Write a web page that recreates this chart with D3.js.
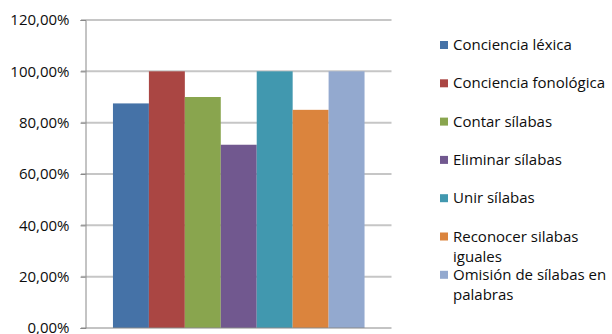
<!DOCTYPE html>
<html>
<head>
<meta charset="utf-8">
<script src="https://cdn.jsdelivr.net/npm/d3@7"></script>
<style>
  html, body { margin: 0; padding: 0; background: #ffffff; }
  svg { display: block; }
  text { font-family: "Open Sans", "Liberation Sans", sans-serif; fill: #0d0d0d; }
</style>
</head>
<body>
<svg id="chart" width="612" height="334"></svg>
<script>
// ---- data ----
const categories = [""];
const seriesNames = [
  "Conciencia léxica",
  "Conciencia fonológica",
  "Contar sílabas",
  "Eliminar sílabas",
  "Unir sílabas",
  "Reconocer silabas iguales",
  "Omisión de sílabas en palabras"
];
const seriesValues = [0.875, 1.0, 0.90, 0.714, 1.0, 0.85, 1.0];
const seriesColors = ["#4572A7", "#AA4643", "#89A54E", "#71588F", "#4198AF", "#DB843D", "#93A9CF"];
const yTicks = [0, 0.2, 0.4, 0.6, 0.8, 1.0, 1.2];

// ---- layout ----
const plot = { left: 86, right: 391.5, top: 20, bottom: 328 };
const gapWidth = 1.5; // Excel gap width 150%

const svg = d3.select("#chart");
const locale = d3.formatLocale({ decimal: ",", thousands: ".", grouping: [3], currency: ["", "€"] });
const fmt = locale.format(".2%");

const y = d3.scaleLinear().domain([0, 1.2]).range([plot.bottom, plot.top]);
const x0 = d3.scaleBand().domain(categories).range([plot.left, plot.right]).padding(0);
const bw = x0.bandwidth();
const barW = bw / (seriesNames.length + gapWidth);
const x1 = d3.scaleBand().domain(seriesNames)
  .range([barW * gapWidth / 2, bw - barW * gapWidth / 2]).padding(0);

// gridlines
svg.append("g").selectAll("line").data(yTicks.filter(d => d > 0)).join("line")
  .attr("x1", plot.left - 5).attr("x2", plot.right)
  .attr("y1", d => y(d)).attr("y2", d => y(d))
  .attr("stroke", "#c6c6c6").attr("stroke-width", 2);

// bars
const data = seriesNames.map((s, i) => ({ cat: categories[0], name: s, value: seriesValues[i], color: seriesColors[i] }));
svg.append("g").selectAll("rect").data(data).join("rect")
  .attr("x", d => x0(d.cat) + x1(d.name))
  .attr("width", x1.bandwidth())
  .attr("y", d => y(d.value))
  .attr("height", d => y(0) - y(d.value))
  .attr("fill", d => d.color);

// y axis
const yAxis = d3.axisLeft(y).tickValues(yTicks).tickFormat(fmt).tickSize(5).tickPadding(11);
const gy = svg.append("g").attr("transform", `translate(${plot.left - 0.5},0)`).call(yAxis);
gy.select(".domain").attr("stroke", "#888888");
gy.selectAll(".tick line").attr("stroke", "#888888");
gy.selectAll(".tick text").style("font-size", "15px").attr("fill", "#0d0d0d")
  .attr("font-family", "Open Sans");

// x axis line
svg.append("line")
  .attr("x1", plot.left - 5).attr("x2", plot.right)
  .attr("y1", y(0)).attr("y2", y(0))
  .attr("stroke", "#888888").attr("stroke-width", 1);

// legend
const legend = svg.append("g");
const legX = 440, legY0 = 50, legStep = 38.3, lineH = 20, maxW = 158;
seriesNames.forEach((name, i) => {
  const g = legend.append("g").attr("transform", `translate(${legX},${legY0 + i * legStep})`);
  g.append("rect").attr("x", 0).attr("y", -9).attr("width", 8).attr("height", 8)
    .attr("fill", seriesColors[i]);
  const t = g.append("text").attr("x", 13).attr("y", 0).style("font-size", "15px");
  const words = name.split(" ");
  let line = [];
  let tspan = t.append("tspan").attr("x", 13).attr("dy", 0);
  words.forEach(w => {
    line.push(w);
    tspan.text(line.join(" "));
    if (tspan.node().getComputedTextLength() > maxW && line.length > 1) {
      line.pop();
      tspan.text(line.join(" "));
      line = [w];
      tspan = t.append("tspan").attr("x", 13).attr("dy", lineH).text(w);
    }
  });
});
</script>
</body>
</html>
